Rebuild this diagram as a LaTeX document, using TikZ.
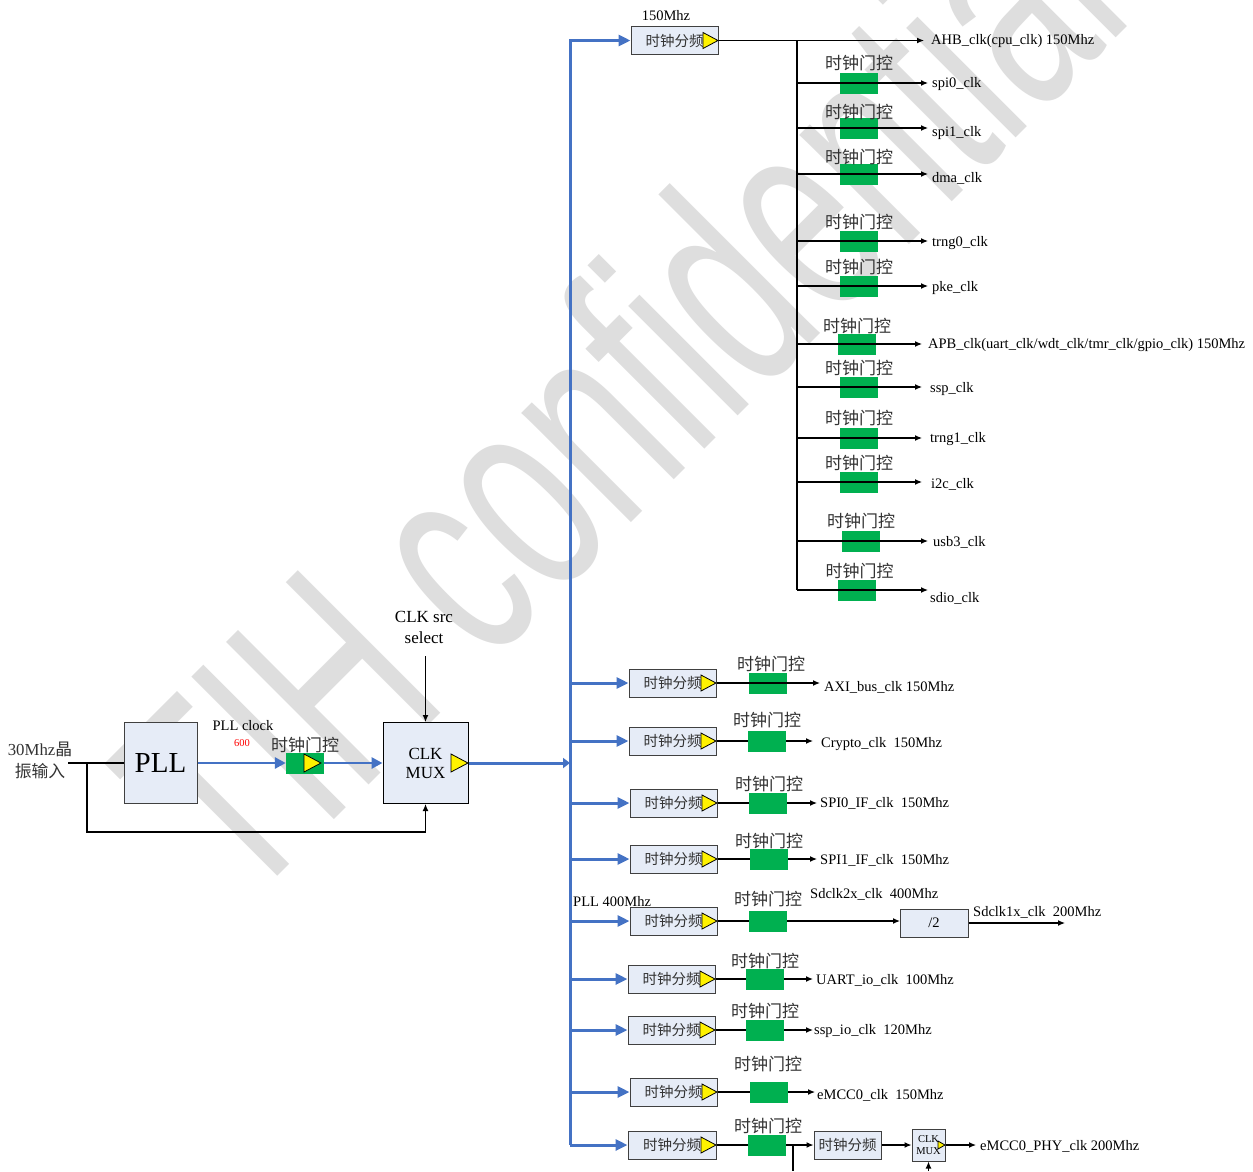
\documentclass[tikz,border=0pt]{standalone}
\usepackage{fontspec}
\setmainfont{Liberation Serif}
\newfontfamily\cjk{Noto Sans CJK SC}
\newfontfamily\wmfont{Liberation Sans}
\usetikzlibrary{arrows.meta}
\definecolor{bluebus}{HTML}{4472C4}
\definecolor{gatefill}{HTML}{00B050}
\definecolor{boxfill}{HTML}{E6ECF7}
\definecolor{wm}{HTML}{DEDEDE}
\definecolor{txt}{HTML}{333333}
\tikzset{
 x=1pt,y=-1pt,
 busline/.style={draw=bluebus,line width=3pt},
 busarrow/.style={busline,-{Triangle[length=12pt,width=11pt]}},
 blk/.style={draw=black,line width=1.2pt},
 blkarrow/.style={blk,-{Latex[length=7pt,width=6pt]}},
 panel/.style={draw=black!75,fill=boxfill,line width=1pt,minimum width=0pt,minimum height=0pt,inner sep=0pt},
 gatebox/.style={fill=gatefill,inner sep=0pt,minimum width=38pt,minimum height=21pt},
 tri/.style={draw=black,fill=yellow,line width=.8pt},
 gatelabel/.style={inner sep=0pt,text=txt,font={\cjk\fontsize{17}{18}\selectfont}},
 divlabel/.style={inner sep=0pt,text=txt,font={\cjk\fontsize{14.5}{15}\selectfont}},
 sig/.style={anchor=west,inner sep=0pt,yshift=-1.2pt,text=black,font={\fontsize{14.5}{15}\selectfont}},
}
% divider box: id, x0, x1, y-mid
\newcommand{\divbox}[4]{%
 \node[panel,minimum width={#3-#2},minimum height=28pt] (#1) at ({(#2+#3)/2},#4) {};
 \node[divlabel] (#1-t) at ({(#2+#3)/2},#4) {时钟分频};
 \coordinate (#1-in) at (#1.west);
 \coordinate (#1-out) at (#1.east);
 \path[tri] (#3-15,#4-8) coordinate (#1-a) -- (#3,#4) -- (#3-15,#4+8) -- cycle;
}
% top-group gate: id, cx, y, arrow end, text x, text y, text, label y
\newcommand{\topgate}[8]{%
 \node[gatebox] (#1) at (#2,{#3}) {};
 \node[gatelabel] (#1-l) at (#2,#8) {时钟门控};
 \coordinate (#1-j) at (797,#3);
 \coordinate (#1-e) at (#4,#3);
 \draw[blkarrow] (#1-j) -- (#1-e);
 \node[sig] (#1-s) at (#5,#6) {#7};
}
% lower-group gate: id, divider id, green x0, y, arrow end, text x, text y, text, label cx, label y
\newcommand{\lowgate}[9]{%
 \coordinate (#1-e) at (#5,#4);
 \draw[blkarrow] (#2-out) -- (#1-e);
 \node[gatebox,anchor=west] (#1) at (#3,#4) {};
 \node[sig] (#1-s) at (#6,#7) {#8};
 \node[gatelabel] (#1-l) at (#9) {时钟门控};
}
\begin{document}
\begin{tikzpicture}
\useasboundingbox (0,0) rectangle (1253,1171);
\fill[white] (0,0) rectangle (1253,1171);
\begin{scope}
\clip (0,0) rectangle (1253,1171);
\node[anchor=base west,inner sep=0pt,rotate=45,xscale=.62,text=wm,font={\wmfont\fontsize{293}{293}\selectfont}] (wmark) at (244,910) {TIH confidential};
\end{scope}

% bus
\coordinate (bustop) at (570,40.5);
\coordinate (busbot) at (570,1145);
\coordinate (busmid) at (570,763);

% left part
\node[inner sep=0pt,align=center,font={\cjk\fontsize{16.8}{22}\selectfont},text=txt] (xtal) at (40,760) {\fontspec{Liberation Serif}30Mhz\cjk 晶\\振输入};
\node[panel,minimum width=73pt,minimum height=81pt,font={\fontsize{29}{30}\selectfont},text=black] (pll) at (160.5,763) {PLL};
\node[panel,draw=black,minimum width=85pt,minimum height=81pt,align=center,font={\fontsize{17}{19}\selectfont},text=black] (mux) at (425.5,763) {CLK\\MUX};
\coordinate (xs) at (68,763);
\coordinate (xj) at (87,763);
\coordinate (xb) at (87,832);
\coordinate (mb) at (425.5,832);
\draw[blk] (xs) -- (pll.west);
\draw[blkarrow] (xj) -- (xb) -- (mb) -- (mux.south);
\node[gatebox] (g0) at (305,763) {};
\node[gatelabel] (g0-l) at (305,745) {时钟门控};
\draw[busarrow,line width=2.8pt,-{Triangle[length=11pt,width=11pt]}] (pll.east) -- (g0.west);
\draw[busarrow,line width=2.8pt,-{Triangle[length=11pt,width=11pt]}] (g0.east) -- (mux.west);
\path[tri] (304,754) -- (321,763) -- (304,772) -- cycle;
\path[tri] (451,754) -- (468,763) -- (451,772) -- cycle;
\node[inner sep=0pt,font={\fontsize{14.5}{15}\selectfont}] (pllclk) at (243,726) {PLL clock};
\node[inner sep=0pt,text=red,font={\fontsize{10.5}{11}\selectfont}] (n600) at (242,743) {600};
\node[inner sep=0pt,align=center,font={\fontsize{17}{21}\selectfont}] (src) at (424,627) {CLK src\\select};
\coordinate (srce) at (425.5,656);
\draw[blkarrow] (srce) -- (mux.north);
\draw[busarrow,-{Triangle[length=7pt,width=10pt]}] (mux.east) -- (busmid);

% main bus
\divbox{d0}{631}{718}{40.5}
\divbox{d1}{629}{716}{683}
\divbox{d2}{629}{716}{741}
\divbox{d3}{630}{717}{803}
\divbox{d4}{630}{717}{859}
\divbox{d5}{630}{717}{921}
\divbox{d6}{628}{715}{979}
\divbox{d7}{628}{715}{1030}
\divbox{d8}{630}{717}{1092}
\divbox{d9}{628}{716}{1145}
\draw[busarrow] (busbot) -- (bustop) -- (d0-in);
\draw[busarrow] (busbot) -- (d9-in);
\foreach \d/\y in {d1/683,d2/741,d3/803,d4/859,d5/921,d6/979,d7/1030,d8/1092}
  {\coordinate (j\d) at (570,\y); \draw[busarrow] (j\d) -- (\d-in);}
\node[inner sep=0pt,font={\fontsize{14.5}{15}\selectfont}] (mhz) at (666,16) {150Mhz};
\node[sig] (pll400) at (573,900) {PLL 400Mhz};

% top group
\coordinate (tj) at (797,40.5);
\coordinate (tb) at (797,590);
\coordinate (ahbe) at (924,40.5);
\draw[blkarrow] (d0-out) -- (ahbe);
\draw[blk] (tj) -- (tb);
\node[sig] (ahb) at (931,40) {AHB\_clk(cpu\_clk) 150Mhz};
\topgate{spi0}{859}{83}{928}{932}{83}{spi0\_clk}{63}
\topgate{spi1}{859}{128}{928}{932}{132}{spi1\_clk}{112}
\topgate{dma}{859}{174}{928}{932}{177}{dma\_clk}{157}
\topgate{trng0}{859}{241}{928}{932}{242}{trng0\_clk}{222}
\topgate{pke}{859}{286}{928}{932}{287}{pke\_clk}{267}
\topgate{apb}{857}{344}{922}{928}{344}{APB\_clk(uart\_clk/wdt\_clk/tmr\_clk/gpio\_clk) 150Mhz}{326}
\topgate{ssp}{859}{387}{922}{930}{388}{ssp\_clk}{368}
\topgate{trng1}{859}{438}{922}{930}{438}{trng1\_clk}{418}
\topgate{iic}{859}{482}{922}{931}{483}{i2c\_clk}{463}
\topgate{usb}{861}{541}{928}{933}{541}{usb3\_clk}{521}
\node[gatebox] (sdio) at (857,590) {};
\node[gatelabel] (sdio-l) at (859.5,571) {时钟门控};
\coordinate (sdio-e) at (928,590);
\draw[blkarrow] (tb) -- (sdio-e);
\node[sig] (sdio-s) at (930,597) {sdio\_clk};

% lower group
\node[gatebox,anchor=west] (l1) at (749,683) {};
\node[gatelabel] (l1-l) at (771,664) {时钟门控};
\coordinate (l1-e) at (820,683);
\draw[blkarrow] (d1-out) -- (l1-e);
\node[sig] (l1-s) at (824,686) {AXI\_bus\_clk 150Mhz};
\lowgate{l2}{d2}{748}{741}{813}{821}{743}{Crypto\_clk\ \ 150Mhz}{767,720}
\lowgate{l3}{d3}{749}{803}{817}{820}{802}{SPI0\_IF\_clk\ \ 150Mhz}{769,784}
\lowgate{l4}{d4}{750}{859}{817}{820}{859}{SPI1\_IF\_clk\ \ 150Mhz}{769,841}
\node[panel,minimum width=68pt,minimum height=28pt,font={\fontsize{14.5}{15}\selectfont},text=black] (half) at (934,923) {/2};
\coordinate (halfin) at (900,921);
\draw[blkarrow] (d5-out) -- (halfin);
\node[gatebox,anchor=west] (l5) at (749,921) {};
\node[gatelabel] (l5-l) at (768,899) {时钟门控};
\node[sig] (l5-s) at (810,893) {Sdclk2x\_clk\ \ 400Mhz};
\coordinate (halfe) at (1065,923);
\draw[blkarrow] (half.east) -- (halfe);
\node[sig] (l5-t) at (973,911) {Sdclk1x\_clk\ \ 200Mhz};
\lowgate{l6}{d6}{746}{979}{813}{816}{979}{UART\_io\_clk\ \ 100Mhz}{765,961}
\lowgate{l7}{d7}{746}{1030}{813}{814}{1030}{ssp\_io\_clk\ \ 120Mhz}{765,1011}
\lowgate{l8}{d8}{750}{1092}{815}{817}{1094}{eMCC0\_clk\ \ 150Mhz}{768,1064}

% last row
\node[panel,minimum width=67pt,minimum height=28pt] (d10) at (847.5,1145) {};
\node[divlabel] (d10-t) at (847.5,1145) {时钟分频};
\node[panel,minimum width=33pt,minimum height=32pt,align=center,text=black,font={\fontsize{10.5}{12}\selectfont}] (mux2) at (928.5,1145) {CLK\\MUX};
\draw[blkarrow] (d9-out) -- (d10.west);
\node[gatebox,anchor=west] (l9) at (748,1145) {};
\node[gatelabel] (l9-l) at (768,1126) {时钟门控};
\draw[blkarrow] (d10.east) -- (mux2.west);
\path[tri] (938,1141) -- (945,1145) -- (938,1149) -- cycle;
\coordinate (mux2e) at (976,1145);
\draw[blkarrow] (mux2.east) -- (mux2e);
\node[sig] (l9-s) at (980,1145) {eMCC0\_PHY\_clk 200Mhz};
\coordinate (stubt) at (793,1145);
\coordinate (stubb) at (793,1171);
\draw[blk] (stubt) -- (stubb);
\coordinate (mux2b) at (928.5,1171);
\draw[blkarrow] (mux2b) -- (mux2.south);
\end{tikzpicture}
\end{document}
